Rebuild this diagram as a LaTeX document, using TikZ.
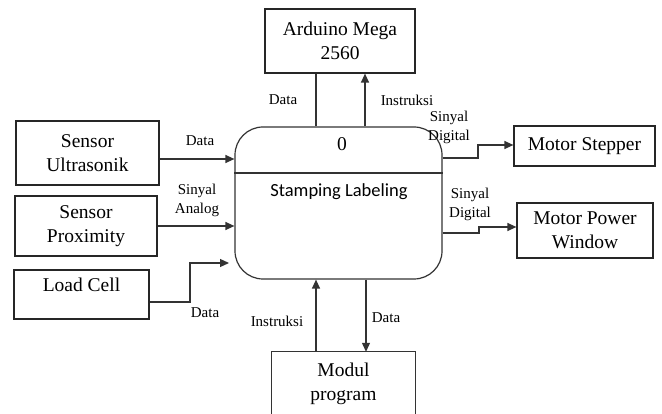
\documentclass[tikz,border=0pt]{standalone}
\usepackage{fontspec}
\setmainfont{Liberation Serif}
\newfontfamily\calib{Carlito}
\usetikzlibrary{arrows.meta}
\begin{document}
\begin{tikzpicture}[x=1pt,y=-1pt,
  box/.style={draw=black!85, line width=1.2pt, inner sep=0pt, align=center, font=\fontsize{19.5}{23.5}\selectfont},
  txt/.style={inner sep=0pt, align=center, font=\fontsize{19.5}{24}\selectfont},
  lbl/.style={font=\fontsize{15}{19}\selectfont, align=center, inner sep=0pt},
  ln/.style={line width=1.2pt, draw=black!80},
  arr/.style={ln, -{Triangle[length=9pt,width=8pt]}}]
\useasboundingbox (0,0) rectangle (662,414);

% boxes
\node[box, minimum width=150, minimum height=64] (ard) at (340,41) {Arduino Mega\\2560};
\node[box, minimum width=143, minimum height=64] (ult) at (87.5,153) {Sensor\\Ultrasonik};
\node[box, minimum width=142, minimum height=60] (prx) at (86,226) {Sensor\\Proximity};
\node[box, minimum width=135, minimum height=49] (lc) at (81.5,294.5) {};
\node[txt] (lct) at (81.5,285) {Load Cell};
\node[box, minimum width=141, minimum height=40] (ms) at (584.5,146) {Motor Stepper};
\node[box, minimum width=136, minimum height=55] (mpw) at (585,230.5) {Motor Power\\Window};
\node[inner sep=0pt, minimum width=143, minimum height=70] (mod) at (343.5,387) {};
\draw[ln] (mod.south west) -- (mod.north west) -- (mod.north east) -- (mod.south east);
\node[txt] (modt) at (343.5,383.5) {Modul\\program};

% process
\node[draw=black!80, line width=1.2pt, rounded corners=28pt, minimum width=207, minimum height=152, inner sep=0pt] (proc) at (338.5,203) {};
\coordinate (ydiv) at (0,173);
\draw[ln] (proc.west |- ydiv) -- (proc.east |- ydiv);
\node[txt] (pid) at (342,144) {0};
\node[inner sep=0pt, font=\calib\fontsize{18.5}{22}\selectfont] (pname) at (339,192) {Stamping Labeling};

% helper coordinates
\coordinate (xa) at (316,0);
\coordinate (xb) at (365,0);
\coordinate (yu) at (0,159);
\coordinate (yl1) at (0,302);
\coordinate (lcb1) at (190,302);
\coordinate (lcb2) at (190,263);
\coordinate (lcend) at (229,263);
\coordinate (ys1) at (0,158);
\coordinate (msb1) at (478,158);
\coordinate (msb2) at (478,145);
\coordinate (yp1) at (0,233);
\coordinate (pwb1) at (479,233);
\coordinate (pwb2) at (479,227);

% connectors
\draw[ln] (proc.north -| xa) -- (ard.south -| xa);
\draw[arr] (proc.north -| xb) -- (ard.south -| xb);
\draw[arr] (ult.east |- yu) -- (proc.west |- yu);
\draw[arr] (prx.east) -- (proc.west |- prx.east);
\draw[arr] (lc.east |- yl1) -- (lcb1) -- (lcb2) -- (lcend);
\draw[arr] (proc.east |- ys1) -- (msb1) -- (msb2) -- (ms.west |- msb2);
\draw[arr] (proc.east |- yp1) -- (pwb1) -- (pwb2) -- (mpw.west |- pwb2);
\draw[arr] (mod.north -| xa) -- (proc.south -| xa);
\coordinate (xc) at (366,0);
\draw[arr] (proc.south -| xc) -- (mod.north -| xc);

% labels
\node[lbl] (l1) at (283,100) {Data};
\node[lbl] (l2) at (407,100) {Instruksi};
\node[lbl] (l3) at (200,141) {Data};
\node[lbl] (l4) at (197,200) {Sinyal\\Analog};
\node[lbl] (l5) at (205,313) {Data};
\node[lbl] (l6) at (449,127) {Sinyal\\Digital};
\node[lbl] (l7) at (470,204) {Sinyal\\Digital};
\node[lbl] (l8) at (277,321) {Instruksi};
\node[lbl] (l9) at (386,318) {Data};
\end{tikzpicture}
\end{document}
